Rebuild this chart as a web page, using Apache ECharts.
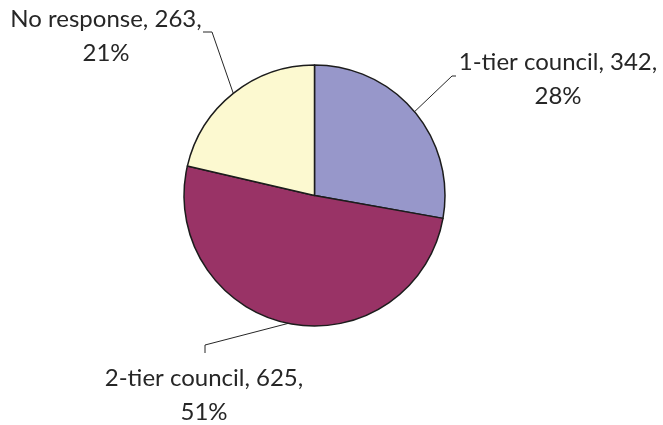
<!DOCTYPE html>
<html>
<head>
<meta charset="utf-8">
<script src="https://cdn.jsdelivr.net/npm/echarts@6/dist/echarts.min.js"></script>
<style>
  html, body { margin: 0; padding: 0; background: #ffffff; }
  #chart { width: 663px; height: 425px; }
</style>
</head>
<body>
<div id="chart"></div>
<script>
// Responses by council type
const categories = ['1-tier council', '2-tier council', 'No response'];
const counts = [342, 625, 263];

// Slice fills, in category order
const sliceColors = ['#9797CA', '#993366', '#FCF9D0'];

// Where each callout sits: label centre and the elbow/end of its leader line
const labelSpots = [
  { x: 558, y: 79,  elbow: [452, 76],  end: [456, 76] },
  { x: 204, y: 395, elbow: [205, 345], end: [205, 353] },
  { x: 106, y: 36,  elbow: [212, 32],  end: [203, 32] }
];

const PIE_CENTER = [314.5, 195.5];
const PIE_RADIUS = 130.5;

// Fallback: point on the rim at a slice's mid angle (clockwise from 12 o'clock)
function rimPoint(idx) {
  const total = counts.reduce((a, b) => a + b, 0);
  let before = 0;
  for (let i = 0; i < idx; i++) before += counts[i];
  const mid = ((before + counts[idx] / 2) / total) * Math.PI * 2;
  return [PIE_CENTER[0] + PIE_RADIUS * Math.sin(mid), PIE_CENTER[1] - PIE_RADIUS * Math.cos(mid)];
}

const chart = echarts.init(document.getElementById('chart'), null, { renderer: 'canvas' });

chart.setOption({
  backgroundColor: '#ffffff',
  animation: false,
  series: [{
    type: 'pie',
    left: 0, top: 0, width: 663, height: 425,
    center: PIE_CENTER,
    radius: PIE_RADIUS,
    startAngle: 90,
    clockwise: true,
    avoidLabelOverlap: false,
    silent: true,
    data: categories.map((name, i) => ({
      name: name,
      value: counts[i],
      itemStyle: { color: sliceColors[i] }
    })),
    itemStyle: { borderColor: '#1c1c1c', borderWidth: 1.5 },
    label: {
      show: true,
      position: 'outside',
      formatter: p => `${p.name}, ${p.value},\n${Math.round(p.percent)}%`,
      fontFamily: 'Lato',
      fontSize: 24,
      lineHeight: 34,
      color: '#262626'
    },
    labelLine: {
      show: true,
      length: 20,
      length2: 5,
      lineStyle: { color: '#262626', width: 1 }
    },
    labelLayout: function (params) {
      const s = labelSpots[params.dataIndex];
      const start = (params.labelLinePoints && params.labelLinePoints[0])
        ? params.labelLinePoints[0].slice()
        : rimPoint(params.dataIndex);
      return {
        x: s.x,
        y: s.y,
        align: 'center',
        verticalAlign: 'middle',
        labelLinePoints: [start, s.elbow.slice(), s.end.slice()]
      };
    },
    emphasis: { disabled: true }
  }]
});
</script>
</body>
</html>
